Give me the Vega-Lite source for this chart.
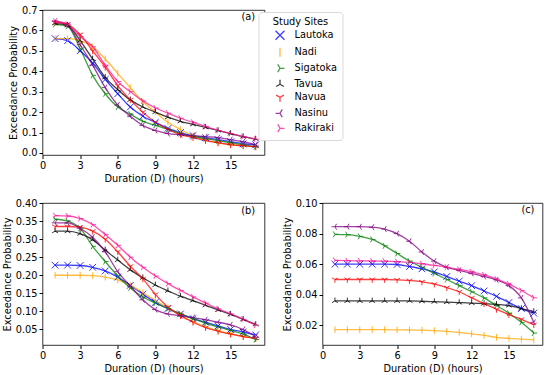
{
"$schema": "https://vega.github.io/schema/vega-lite/v6.json",
"padding": {"left": 1.5, "top": 4, "right": 0, "bottom": 0},
"config": {
  "font": "DejaVu Sans",
  "view": {"stroke": "#000", "strokeWidth": 0.8},
  "axis": {"labelFont": "DejaVu Sans", "titleFont": "DejaVu Sans", "labelFontSize": 9.8, "titleFontSize": 9.8, "titleFontWeight": "normal", "labelColor": "#000", "titleColor": "#000", "tickColor": "#000", "domain": false, "grid": false, "tickSize": 3.5, "labelPadding": 2, "titlePadding": 3, "labelOverlap": false, "labelFlush": false},
  "legend": {"labelFont": "DejaVu Sans", "titleFont": "DejaVu Sans", "orient": "none", "legendX": 216, "legendY": 2, "titleAnchor": "middle", "titleFontSize": 9.8, "titleFontWeight": "normal", "titleColor": "#000", "titlePadding": 3, "labelFontSize": 9.8, "labelColor": "#000", "symbolSize": 80, "symbolStrokeWidth": 1.3, "symbolOpacity": 0.75, "symbolFillColor": "transparent", "symbolOffset": 11, "labelOffset": 9, "strokeColor": "#d9d9d9", "fillColor": "#ffffff", "cornerRadius": 3, "padding": 5, "rowPadding": 2}
},
"data": {"values": [
{"g":"a","s":"Lautoka","d":1,"p":0.56},{"g":"a","s":"Lautoka","d":2,"p":0.55},{"g":"a","s":"Lautoka","d":3,"p":0.5},{"g":"a","s":"Lautoka","d":4,"p":0.44},{"g":"a","s":"Lautoka","d":5,"p":0.36},{"g":"a","s":"Lautoka","d":6,"p":0.29},{"g":"a","s":"Lautoka","d":7,"p":0.225},{"g":"a","s":"Lautoka","d":8,"p":0.18},{"g":"a","s":"Lautoka","d":9,"p":0.15},{"g":"a","s":"Lautoka","d":10,"p":0.12},{"g":"a","s":"Lautoka","d":11,"p":0.1},{"g":"a","s":"Lautoka","d":12,"p":0.085},{"g":"a","s":"Lautoka","d":13,"p":0.075},{"g":"a","s":"Lautoka","d":14,"p":0.065},{"g":"a","s":"Lautoka","d":15,"p":0.055},{"g":"a","s":"Lautoka","d":16,"p":0.045},{"g":"a","s":"Lautoka","d":17,"p":0.04},
{"g":"a","s":"Nadi","d":1,"p":0.56},{"g":"a","s":"Nadi","d":2,"p":0.56},{"g":"a","s":"Nadi","d":3,"p":0.55},{"g":"a","s":"Nadi","d":4,"p":0.52},{"g":"a","s":"Nadi","d":5,"p":0.46},{"g":"a","s":"Nadi","d":6,"p":0.39},{"g":"a","s":"Nadi","d":7,"p":0.32},{"g":"a","s":"Nadi","d":8,"p":0.25},{"g":"a","s":"Nadi","d":9,"p":0.2},{"g":"a","s":"Nadi","d":10,"p":0.15},{"g":"a","s":"Nadi","d":11,"p":0.115},{"g":"a","s":"Nadi","d":12,"p":0.085},{"g":"a","s":"Nadi","d":13,"p":0.065},{"g":"a","s":"Nadi","d":14,"p":0.05},{"g":"a","s":"Nadi","d":15,"p":0.04},{"g":"a","s":"Nadi","d":16,"p":0.035},{"g":"a","s":"Nadi","d":17,"p":0.03},
{"g":"a","s":"Sigatoka","d":1,"p":0.63},{"g":"a","s":"Sigatoka","d":2,"p":0.62},{"g":"a","s":"Sigatoka","d":3,"p":0.51},{"g":"a","s":"Sigatoka","d":4,"p":0.38},{"g":"a","s":"Sigatoka","d":5,"p":0.29},{"g":"a","s":"Sigatoka","d":6,"p":0.225},{"g":"a","s":"Sigatoka","d":7,"p":0.19},{"g":"a","s":"Sigatoka","d":8,"p":0.155},{"g":"a","s":"Sigatoka","d":9,"p":0.135},{"g":"a","s":"Sigatoka","d":10,"p":0.115},{"g":"a","s":"Sigatoka","d":11,"p":0.095},{"g":"a","s":"Sigatoka","d":12,"p":0.08},{"g":"a","s":"Sigatoka","d":13,"p":0.07},{"g":"a","s":"Sigatoka","d":14,"p":0.06},{"g":"a","s":"Sigatoka","d":15,"p":0.05},{"g":"a","s":"Sigatoka","d":16,"p":0.04},{"g":"a","s":"Sigatoka","d":17,"p":0.03},
{"g":"a","s":"Tavua","d":1,"p":0.635},{"g":"a","s":"Tavua","d":2,"p":0.625},{"g":"a","s":"Tavua","d":3,"p":0.55},{"g":"a","s":"Tavua","d":4,"p":0.46},{"g":"a","s":"Tavua","d":5,"p":0.37},{"g":"a","s":"Tavua","d":6,"p":0.31},{"g":"a","s":"Tavua","d":7,"p":0.26},{"g":"a","s":"Tavua","d":8,"p":0.225},{"g":"a","s":"Tavua","d":9,"p":0.2},{"g":"a","s":"Tavua","d":10,"p":0.175},{"g":"a","s":"Tavua","d":11,"p":0.155},{"g":"a","s":"Tavua","d":12,"p":0.14},{"g":"a","s":"Tavua","d":13,"p":0.125},{"g":"a","s":"Tavua","d":14,"p":0.11},{"g":"a","s":"Tavua","d":15,"p":0.095},{"g":"a","s":"Tavua","d":16,"p":0.08},{"g":"a","s":"Tavua","d":17,"p":0.068},
{"g":"a","s":"Navua","d":1,"p":0.64},{"g":"a","s":"Navua","d":2,"p":0.63},{"g":"a","s":"Navua","d":3,"p":0.58},{"g":"a","s":"Navua","d":4,"p":0.5},{"g":"a","s":"Navua","d":5,"p":0.42},{"g":"a","s":"Navua","d":6,"p":0.33},{"g":"a","s":"Navua","d":7,"p":0.26},{"g":"a","s":"Navua","d":8,"p":0.2},{"g":"a","s":"Navua","d":9,"p":0.15},{"g":"a","s":"Navua","d":10,"p":0.115},{"g":"a","s":"Navua","d":11,"p":0.09},{"g":"a","s":"Navua","d":12,"p":0.075},{"g":"a","s":"Navua","d":13,"p":0.06},{"g":"a","s":"Navua","d":14,"p":0.05},{"g":"a","s":"Navua","d":15,"p":0.04},{"g":"a","s":"Navua","d":16,"p":0.035},{"g":"a","s":"Navua","d":17,"p":0.03},
{"g":"a","s":"Nasinu","d":1,"p":0.645},{"g":"a","s":"Nasinu","d":2,"p":0.625},{"g":"a","s":"Nasinu","d":3,"p":0.53},{"g":"a","s":"Nasinu","d":4,"p":0.43},{"g":"a","s":"Nasinu","d":5,"p":0.32},{"g":"a","s":"Nasinu","d":6,"p":0.235},{"g":"a","s":"Nasinu","d":7,"p":0.18},{"g":"a","s":"Nasinu","d":8,"p":0.135},{"g":"a","s":"Nasinu","d":9,"p":0.11},{"g":"a","s":"Nasinu","d":10,"p":0.095},{"g":"a","s":"Nasinu","d":11,"p":0.09},{"g":"a","s":"Nasinu","d":12,"p":0.085},{"g":"a","s":"Nasinu","d":13,"p":0.08},{"g":"a","s":"Nasinu","d":14,"p":0.075},{"g":"a","s":"Nasinu","d":15,"p":0.065},{"g":"a","s":"Nasinu","d":16,"p":0.055},{"g":"a","s":"Nasinu","d":17,"p":0.04},
{"g":"a","s":"Rakiraki","d":1,"p":0.645},{"g":"a","s":"Rakiraki","d":2,"p":0.63},{"g":"a","s":"Rakiraki","d":3,"p":0.57},{"g":"a","s":"Rakiraki","d":4,"p":0.52},{"g":"a","s":"Rakiraki","d":5,"p":0.43},{"g":"a","s":"Rakiraki","d":6,"p":0.35},{"g":"a","s":"Rakiraki","d":7,"p":0.3},{"g":"a","s":"Rakiraki","d":8,"p":0.255},{"g":"a","s":"Rakiraki","d":9,"p":0.22},{"g":"a","s":"Rakiraki","d":10,"p":0.195},{"g":"a","s":"Rakiraki","d":11,"p":0.17},{"g":"a","s":"Rakiraki","d":12,"p":0.15},{"g":"a","s":"Rakiraki","d":13,"p":0.13},{"g":"a","s":"Rakiraki","d":14,"p":0.11},{"g":"a","s":"Rakiraki","d":15,"p":0.095},{"g":"a","s":"Rakiraki","d":16,"p":0.08},{"g":"a","s":"Rakiraki","d":17,"p":0.068},
{"g":"b","s":"Lautoka","d":1,"p":0.228},{"g":"b","s":"Lautoka","d":2,"p":0.228},{"g":"b","s":"Lautoka","d":3,"p":0.227},{"g":"b","s":"Lautoka","d":4,"p":0.222},{"g":"b","s":"Lautoka","d":5,"p":0.212},{"g":"b","s":"Lautoka","d":6,"p":0.195},{"g":"b","s":"Lautoka","d":7,"p":0.172},{"g":"b","s":"Lautoka","d":8,"p":0.148},{"g":"b","s":"Lautoka","d":9,"p":0.125},{"g":"b","s":"Lautoka","d":10,"p":0.108},{"g":"b","s":"Lautoka","d":11,"p":0.093},{"g":"b","s":"Lautoka","d":12,"p":0.08},{"g":"b","s":"Lautoka","d":13,"p":0.07},{"g":"b","s":"Lautoka","d":14,"p":0.06},{"g":"b","s":"Lautoka","d":15,"p":0.05},{"g":"b","s":"Lautoka","d":16,"p":0.043},{"g":"b","s":"Lautoka","d":17,"p":0.035},
{"g":"b","s":"Nadi","d":1,"p":0.2},{"g":"b","s":"Nadi","d":2,"p":0.2},{"g":"b","s":"Nadi","d":3,"p":0.2},{"g":"b","s":"Nadi","d":4,"p":0.199},{"g":"b","s":"Nadi","d":5,"p":0.195},{"g":"b","s":"Nadi","d":6,"p":0.187},{"g":"b","s":"Nadi","d":7,"p":0.172},{"g":"b","s":"Nadi","d":8,"p":0.152},{"g":"b","s":"Nadi","d":9,"p":0.13},{"g":"b","s":"Nadi","d":10,"p":0.11},{"g":"b","s":"Nadi","d":11,"p":0.09},{"g":"b","s":"Nadi","d":12,"p":0.072},{"g":"b","s":"Nadi","d":13,"p":0.058},{"g":"b","s":"Nadi","d":14,"p":0.047},{"g":"b","s":"Nadi","d":15,"p":0.038},{"g":"b","s":"Nadi","d":16,"p":0.031},{"g":"b","s":"Nadi","d":17,"p":0.026},
{"g":"b","s":"Sigatoka","d":1,"p":0.355},{"g":"b","s":"Sigatoka","d":2,"p":0.35},{"g":"b","s":"Sigatoka","d":3,"p":0.33},{"g":"b","s":"Sigatoka","d":4,"p":0.28},{"g":"b","s":"Sigatoka","d":5,"p":0.238},{"g":"b","s":"Sigatoka","d":6,"p":0.198},{"g":"b","s":"Sigatoka","d":7,"p":0.165},{"g":"b","s":"Sigatoka","d":8,"p":0.14},{"g":"b","s":"Sigatoka","d":9,"p":0.123},{"g":"b","s":"Sigatoka","d":10,"p":0.108},{"g":"b","s":"Sigatoka","d":11,"p":0.093},{"g":"b","s":"Sigatoka","d":12,"p":0.08},{"g":"b","s":"Sigatoka","d":13,"p":0.067},{"g":"b","s":"Sigatoka","d":14,"p":0.057},{"g":"b","s":"Sigatoka","d":15,"p":0.047},{"g":"b","s":"Sigatoka","d":16,"p":0.037},{"g":"b","s":"Sigatoka","d":17,"p":0.022},
{"g":"b","s":"Tavua","d":1,"p":0.322},{"g":"b","s":"Tavua","d":2,"p":0.322},{"g":"b","s":"Tavua","d":3,"p":0.315},{"g":"b","s":"Tavua","d":4,"p":0.298},{"g":"b","s":"Tavua","d":5,"p":0.27},{"g":"b","s":"Tavua","d":6,"p":0.242},{"g":"b","s":"Tavua","d":7,"p":0.215},{"g":"b","s":"Tavua","d":8,"p":0.193},{"g":"b","s":"Tavua","d":9,"p":0.173},{"g":"b","s":"Tavua","d":10,"p":0.157},{"g":"b","s":"Tavua","d":11,"p":0.142},{"g":"b","s":"Tavua","d":12,"p":0.13},{"g":"b","s":"Tavua","d":13,"p":0.117},{"g":"b","s":"Tavua","d":14,"p":0.104},{"g":"b","s":"Tavua","d":15,"p":0.092},{"g":"b","s":"Tavua","d":16,"p":0.078},{"g":"b","s":"Tavua","d":17,"p":0.064},
{"g":"b","s":"Navua","d":1,"p":0.335},{"g":"b","s":"Navua","d":2,"p":0.335},{"g":"b","s":"Navua","d":3,"p":0.333},{"g":"b","s":"Navua","d":4,"p":0.322},{"g":"b","s":"Navua","d":5,"p":0.3},{"g":"b","s":"Navua","d":6,"p":0.265},{"g":"b","s":"Navua","d":7,"p":0.225},{"g":"b","s":"Navua","d":8,"p":0.19},{"g":"b","s":"Navua","d":9,"p":0.147},{"g":"b","s":"Navua","d":10,"p":0.112},{"g":"b","s":"Navua","d":11,"p":0.088},{"g":"b","s":"Navua","d":12,"p":0.07},{"g":"b","s":"Navua","d":13,"p":0.055},{"g":"b","s":"Navua","d":14,"p":0.045},{"g":"b","s":"Navua","d":15,"p":0.037},{"g":"b","s":"Navua","d":16,"p":0.03},{"g":"b","s":"Navua","d":17,"p":0.025},
{"g":"b","s":"Nasinu","d":1,"p":0.345},{"g":"b","s":"Nasinu","d":2,"p":0.345},{"g":"b","s":"Nasinu","d":3,"p":0.33},{"g":"b","s":"Nasinu","d":4,"p":0.305},{"g":"b","s":"Nasinu","d":5,"p":0.265},{"g":"b","s":"Nasinu","d":6,"p":0.21},{"g":"b","s":"Nasinu","d":7,"p":0.17},{"g":"b","s":"Nasinu","d":8,"p":0.132},{"g":"b","s":"Nasinu","d":9,"p":0.105},{"g":"b","s":"Nasinu","d":10,"p":0.093},{"g":"b","s":"Nasinu","d":11,"p":0.088},{"g":"b","s":"Nasinu","d":12,"p":0.083},{"g":"b","s":"Nasinu","d":13,"p":0.077},{"g":"b","s":"Nasinu","d":14,"p":0.07},{"g":"b","s":"Nasinu","d":15,"p":0.063},{"g":"b","s":"Nasinu","d":16,"p":0.05},{"g":"b","s":"Nasinu","d":17,"p":0.03},
{"g":"b","s":"Rakiraki","d":1,"p":0.365},{"g":"b","s":"Rakiraki","d":2,"p":0.364},{"g":"b","s":"Rakiraki","d":3,"p":0.357},{"g":"b","s":"Rakiraki","d":4,"p":0.34},{"g":"b","s":"Rakiraki","d":5,"p":0.313},{"g":"b","s":"Rakiraki","d":6,"p":0.283},{"g":"b","s":"Rakiraki","d":7,"p":0.25},{"g":"b","s":"Rakiraki","d":8,"p":0.222},{"g":"b","s":"Rakiraki","d":9,"p":0.198},{"g":"b","s":"Rakiraki","d":10,"p":0.177},{"g":"b","s":"Rakiraki","d":11,"p":0.158},{"g":"b","s":"Rakiraki","d":12,"p":0.14},{"g":"b","s":"Rakiraki","d":13,"p":0.123},{"g":"b","s":"Rakiraki","d":14,"p":0.107},{"g":"b","s":"Rakiraki","d":15,"p":0.093},{"g":"b","s":"Rakiraki","d":16,"p":0.078},{"g":"b","s":"Rakiraki","d":17,"p":0.062},
{"g":"c","s":"Lautoka","d":1,"p":0.06},{"g":"c","s":"Lautoka","d":2,"p":0.06},{"g":"c","s":"Lautoka","d":3,"p":0.06},{"g":"c","s":"Lautoka","d":4,"p":0.06},{"g":"c","s":"Lautoka","d":5,"p":0.06},{"g":"c","s":"Lautoka","d":6,"p":0.0598},{"g":"c","s":"Lautoka","d":7,"p":0.0585},{"g":"c","s":"Lautoka","d":8,"p":0.057},{"g":"c","s":"Lautoka","d":9,"p":0.055},{"g":"c","s":"Lautoka","d":10,"p":0.052},{"g":"c","s":"Lautoka","d":11,"p":0.049},{"g":"c","s":"Lautoka","d":12,"p":0.046},{"g":"c","s":"Lautoka","d":13,"p":0.0425},{"g":"c","s":"Lautoka","d":14,"p":0.039},{"g":"c","s":"Lautoka","d":15,"p":0.035},{"g":"c","s":"Lautoka","d":16,"p":0.031},{"g":"c","s":"Lautoka","d":17,"p":0.028},
{"g":"c","s":"Nadi","d":1,"p":0.0172},{"g":"c","s":"Nadi","d":2,"p":0.0172},{"g":"c","s":"Nadi","d":3,"p":0.0172},{"g":"c","s":"Nadi","d":4,"p":0.0172},{"g":"c","s":"Nadi","d":5,"p":0.0172},{"g":"c","s":"Nadi","d":6,"p":0.0171},{"g":"c","s":"Nadi","d":7,"p":0.017},{"g":"c","s":"Nadi","d":8,"p":0.0169},{"g":"c","s":"Nadi","d":9,"p":0.0166},{"g":"c","s":"Nadi","d":10,"p":0.0161},{"g":"c","s":"Nadi","d":11,"p":0.0155},{"g":"c","s":"Nadi","d":12,"p":0.0145},{"g":"c","s":"Nadi","d":13,"p":0.0135},{"g":"c","s":"Nadi","d":14,"p":0.0122},{"g":"c","s":"Nadi","d":15,"p":0.0115},{"g":"c","s":"Nadi","d":16,"p":0.011},{"g":"c","s":"Nadi","d":17,"p":0.0105},
{"g":"c","s":"Sigatoka","d":1,"p":0.0795},{"g":"c","s":"Sigatoka","d":2,"p":0.0793},{"g":"c","s":"Sigatoka","d":3,"p":0.0782},{"g":"c","s":"Sigatoka","d":4,"p":0.0762},{"g":"c","s":"Sigatoka","d":5,"p":0.072},{"g":"c","s":"Sigatoka","d":6,"p":0.067},{"g":"c","s":"Sigatoka","d":7,"p":0.062},{"g":"c","s":"Sigatoka","d":8,"p":0.058},{"g":"c","s":"Sigatoka","d":9,"p":0.054},{"g":"c","s":"Sigatoka","d":10,"p":0.05},{"g":"c","s":"Sigatoka","d":11,"p":0.046},{"g":"c","s":"Sigatoka","d":12,"p":0.042},{"g":"c","s":"Sigatoka","d":13,"p":0.038},{"g":"c","s":"Sigatoka","d":14,"p":0.033},{"g":"c","s":"Sigatoka","d":15,"p":0.028},{"g":"c","s":"Sigatoka","d":16,"p":0.022},{"g":"c","s":"Sigatoka","d":17,"p":0.015},
{"g":"c","s":"Tavua","d":1,"p":0.036},{"g":"c","s":"Tavua","d":2,"p":0.036},{"g":"c","s":"Tavua","d":3,"p":0.036},{"g":"c","s":"Tavua","d":4,"p":0.036},{"g":"c","s":"Tavua","d":5,"p":0.036},{"g":"c","s":"Tavua","d":6,"p":0.036},{"g":"c","s":"Tavua","d":7,"p":0.036},{"g":"c","s":"Tavua","d":8,"p":0.0358},{"g":"c","s":"Tavua","d":9,"p":0.0355},{"g":"c","s":"Tavua","d":10,"p":0.0352},{"g":"c","s":"Tavua","d":11,"p":0.0349},{"g":"c","s":"Tavua","d":12,"p":0.0346},{"g":"c","s":"Tavua","d":13,"p":0.0342},{"g":"c","s":"Tavua","d":14,"p":0.0337},{"g":"c","s":"Tavua","d":15,"p":0.033},{"g":"c","s":"Tavua","d":16,"p":0.031},{"g":"c","s":"Tavua","d":17,"p":0.029},
{"g":"c","s":"Navua","d":1,"p":0.05},{"g":"c","s":"Navua","d":2,"p":0.05},{"g":"c","s":"Navua","d":3,"p":0.05},{"g":"c","s":"Navua","d":4,"p":0.05},{"g":"c","s":"Navua","d":5,"p":0.05},{"g":"c","s":"Navua","d":6,"p":0.0498},{"g":"c","s":"Navua","d":7,"p":0.0493},{"g":"c","s":"Navua","d":8,"p":0.0485},{"g":"c","s":"Navua","d":9,"p":0.047},{"g":"c","s":"Navua","d":10,"p":0.0447},{"g":"c","s":"Navua","d":11,"p":0.042},{"g":"c","s":"Navua","d":12,"p":0.038},{"g":"c","s":"Navua","d":13,"p":0.0342},{"g":"c","s":"Navua","d":14,"p":0.0305},{"g":"c","s":"Navua","d":15,"p":0.027},{"g":"c","s":"Navua","d":16,"p":0.024},{"g":"c","s":"Navua","d":17,"p":0.0205},
{"g":"c","s":"Nasinu","d":1,"p":0.0845},{"g":"c","s":"Nasinu","d":2,"p":0.0845},{"g":"c","s":"Nasinu","d":3,"p":0.0845},{"g":"c","s":"Nasinu","d":4,"p":0.0842},{"g":"c","s":"Nasinu","d":5,"p":0.083},{"g":"c","s":"Nasinu","d":6,"p":0.08},{"g":"c","s":"Nasinu","d":7,"p":0.075},{"g":"c","s":"Nasinu","d":8,"p":0.068},{"g":"c","s":"Nasinu","d":9,"p":0.062},{"g":"c","s":"Nasinu","d":10,"p":0.058},{"g":"c","s":"Nasinu","d":11,"p":0.056},{"g":"c","s":"Nasinu","d":12,"p":0.054},{"g":"c","s":"Nasinu","d":13,"p":0.052},{"g":"c","s":"Nasinu","d":14,"p":0.0498},{"g":"c","s":"Nasinu","d":15,"p":0.046},{"g":"c","s":"Nasinu","d":16,"p":0.038},{"g":"c","s":"Nasinu","d":17,"p":0.022},
{"g":"c","s":"Rakiraki","d":1,"p":0.0625},{"g":"c","s":"Rakiraki","d":2,"p":0.0623},{"g":"c","s":"Rakiraki","d":3,"p":0.0622},{"g":"c","s":"Rakiraki","d":4,"p":0.0621},{"g":"c","s":"Rakiraki","d":5,"p":0.062},{"g":"c","s":"Rakiraki","d":6,"p":0.0617},{"g":"c","s":"Rakiraki","d":7,"p":0.0612},{"g":"c","s":"Rakiraki","d":8,"p":0.0603},{"g":"c","s":"Rakiraki","d":9,"p":0.0592},{"g":"c","s":"Rakiraki","d":10,"p":0.058},{"g":"c","s":"Rakiraki","d":11,"p":0.0566},{"g":"c","s":"Rakiraki","d":12,"p":0.055},{"g":"c","s":"Rakiraki","d":13,"p":0.053},{"g":"c","s":"Rakiraki","d":14,"p":0.0503},{"g":"c","s":"Rakiraki","d":15,"p":0.047},{"g":"c","s":"Rakiraki","d":16,"p":0.0428},{"g":"c","s":"Rakiraki","d":17,"p":0.038}
]},
"spacing": 13,
"vconcat": [
{
 "width": 222, "height": 145,
 "transform": [{"filter": "datum.g === 'a'"}],
 "layer": [
  {"mark": {"type": "line", "interpolate": "monotone", "strokeWidth": 1.3, "opacity": 0.75},
   "encoding": {
    "x": {"field": "d", "type": "quantitative", "scale": {"domain": [0, 17.7], "nice": false}, "axis": {"values": [0, 3, 6, 9, 12, 15], "tickCount": 20, "title": "Duration (D) (hours)"}},
    "y": {"field": "p", "type": "quantitative", "scale": {"domain": [-0.01, 0.7], "nice": false, "zero": false}, "axis": {"values": [0, 0.1, 0.2, 0.3, 0.4, 0.5, 0.6, 0.7], "tickCount": 20, "format": ".1f", "title": "Exceedance Probability"}},
    "color": {"field": "s", "type": "nominal", "sort": null, "title": "Study Sites", "scale": {"domain": ["Lautoka", "Nadi", "Sigatoka", "Tavua", "Navua", "Nasinu", "Rakiraki"], "range": ["#0000ff", "#ffa500", "#008000", "#000000", "#ff0000", "#800080", "#ff1493"]}, "legend": {"title": "Study Sites"}}
   }
  },
  {"mark": {"type": "point", "filled": false, "size": 45, "strokeWidth": 1, "opacity": 0.8},
   "encoding": {
    "x": {"field": "d", "type": "quantitative"},
    "y": {"field": "p", "type": "quantitative"},
    "color": {"field": "s", "type": "nominal", "sort": null, "title": "Study Sites", "legend": {"title": "Study Sites"}},
    "shape": {"field": "s", "type": "nominal", "sort": null, "title": "Study Sites", "legend": null, "scale": {"domain": ["Lautoka", "Nadi", "Sigatoka", "Tavua", "Navua", "Nasinu", "Rakiraki"], "range": ["M-1,-1L1,1M-1,1L1,-1", "M0,-1L0,1", "M0,0L1,0M0,0L-0.5,-0.87M0,0L-0.5,0.87", "M0,0L0,-1M0,0L-0.87,0.5M0,0L0.87,0.5", "M0,0L0,1M0,0L-0.87,-0.5M0,0L0.87,-0.5", "M0,0L-1,0M0,0L0.5,-0.87M0,0L0.5,0.87", "M0,0L1,0M0,0L-0.5,-0.87M0,0L-0.5,0.87"]}}
   }
  },
  {"data": {"values": [{}]},
   "mark": {"type": "text", "align": "right", "baseline": "middle", "fontSize": 9.8, "color": "#000"},
   "encoding": {"x": {"datum": 16.95}, "y": {"datum": 0.666}, "text": {"value": "(a)"}}}
 ]
},
{
 "spacing": 16,
 "hconcat": [
  {
   "width": 222, "height": 142,
   "transform": [{"filter": "datum.g === 'b'"}],
   "layer": [
    {"mark": {"type": "line", "interpolate": "monotone", "strokeWidth": 1.3, "opacity": 0.75},
     "encoding": {
      "x": {"field": "d", "type": "quantitative", "scale": {"domain": [0, 17.7], "nice": false}, "axis": {"values": [0, 3, 6, 9, 12, 15], "tickCount": 20, "title": "Duration (D) (hours)"}},
      "y": {"field": "p", "type": "quantitative", "scale": {"domain": [0.007, 0.4], "nice": false, "zero": false}, "axis": {"values": [0.05, 0.1, 0.15, 0.2, 0.25, 0.3, 0.35, 0.4], "tickCount": 20, "format": ".2f", "title": "Exceedance Probability"}},
      "color": {"field": "s", "type": "nominal", "sort": null, "title": "Study Sites"}}},
    {"mark": {"type": "point", "filled": false, "size": 45, "strokeWidth": 1, "opacity": 0.8},
     "encoding": {
      "x": {"field": "d", "type": "quantitative"},
      "y": {"field": "p", "type": "quantitative"},
      "color": {"field": "s", "type": "nominal", "sort": null, "title": "Study Sites"},
      "shape": {"field": "s", "type": "nominal", "sort": null, "title": "Study Sites", "legend": null}}},
    {"data": {"values": [{}]},
     "mark": {"type": "text", "align": "right", "baseline": "middle", "fontSize": 9.8, "color": "#000"},
     "encoding": {"x": {"datum": 16.95}, "y": {"datum": 0.377}, "text": {"value": "(b)"}}}
   ]
  },
  {
   "width": 220, "height": 142,
   "transform": [{"filter": "datum.g === 'c'"}],
   "layer": [
    {"mark": {"type": "line", "interpolate": "monotone", "strokeWidth": 1.3, "opacity": 0.75},
     "encoding": {
      "x": {"field": "d", "type": "quantitative", "scale": {"domain": [0, 17.7], "nice": false}, "axis": {"values": [0, 3, 6, 9, 12, 15], "tickCount": 20, "title": "Duration (D) (hours)"}},
      "y": {"field": "p", "type": "quantitative", "scale": {"domain": [0.0072, 0.1], "nice": false, "zero": false}, "axis": {"values": [0.02, 0.04, 0.06, 0.08, 0.1], "tickCount": 20, "format": ".2f", "title": "Exceedance Probability"}},
      "color": {"field": "s", "type": "nominal", "sort": null, "title": "Study Sites"}}},
    {"mark": {"type": "point", "filled": false, "size": 45, "strokeWidth": 1, "opacity": 0.8},
     "encoding": {
      "x": {"field": "d", "type": "quantitative"},
      "y": {"field": "p", "type": "quantitative"},
      "color": {"field": "s", "type": "nominal", "sort": null, "title": "Study Sites"},
      "shape": {"field": "s", "type": "nominal", "sort": null, "title": "Study Sites", "legend": null}}},
    {"data": {"values": [{}]},
     "mark": {"type": "text", "align": "right", "baseline": "middle", "fontSize": 9.8, "color": "#000"},
     "encoding": {"x": {"datum": 17.05}, "y": {"datum": 0.0952}, "text": {"value": "(c)"}}}
   ]
  }
 ]
}
],
"resolve": {"scale": {"x": "independent", "y": "independent"}}
}
